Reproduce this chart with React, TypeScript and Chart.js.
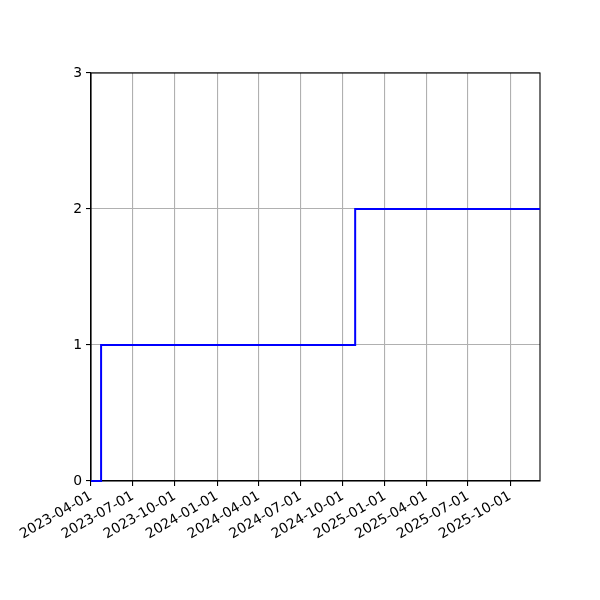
import { useEffect, useRef } from "react";
import { Chart, registerables } from "chart.js";

Chart.register(...registerables);

// step data (where="post"): value holds from each date until the next one
const stepDates = ["2023-04-01", "2023-04-23", "2024-10-28", "2025-12-05"];
const stepValues = [0, 1, 2, 2];

const xTickLabels = [
  "2023-04-01",
  "2023-07-01",
  "2023-10-01",
  "2024-01-01",
  "2024-04-01",
  "2024-07-01",
  "2024-10-01",
  "2025-01-01",
  "2025-04-01",
  "2025-07-01",
  "2025-10-01",
];
const yTickValues = [0, 1, 2, 3];

const toMs = (d: string) => Date.parse(d + "T00:00:00Z");

// matplotlib-like full frame around the axes, under the line
const framePlugin = {
  id: "frame",
  beforeDatasetsDraw(chart: any) {
    const { ctx, chartArea } = chart;
    ctx.save();
    ctx.strokeStyle = "#000";
    ctx.lineWidth = 1.1;
    ctx.strokeRect(
      chartArea.left,
      chartArea.top,
      chartArea.right - chartArea.left,
      chartArea.bottom - chartArea.top
    );
    ctx.restore();
  },
};

export default function App() {
  const canvasRef = useRef<HTMLCanvasElement>(null);

  useEffect(() => {
    document.body.style.margin = "0";
    if (!canvasRef.current) return;

    const points = stepDates.map((d, i) => ({ x: toMs(d), y: stepValues[i] }));
    const font = { family: "DejaVu Sans", size: 13.9 };

    const chart = new Chart(canvasRef.current, {
      type: "line",
      data: {
        datasets: [
          {
            data: points,
            borderColor: "#0000ff",
            borderWidth: 2,
            pointRadius: 0,
            stepped: true,
            fill: false,
            clip: 3,
          },
        ],
      },
      options: {
        animation: false,
        responsive: false,
        maintainAspectRatio: false,
        layout: { padding: { left: 0, top: 73, right: 60, bottom: 0 } },
        plugins: {
          legend: { display: false },
          tooltip: { enabled: false },
        },
        scales: {
          x: {
            type: "linear",
            min: toMs(stepDates[0]),
            max: toMs(stepDates[stepDates.length - 1]),
            afterBuildTicks: (scale: any) => {
              scale.ticks = xTickLabels.map((t) => ({ value: toMs(t) }));
            },
            afterFit: (scale: any) => {
              scale.height = 119;
            },
            grid: {
              color: "#b0b0b0",
              lineWidth: 1.1,
              tickColor: "#000",
              tickLength: 5,
            },
            border: { color: "#000", width: 1.1 },
            ticks: {
              autoSkip: false,
              minRotation: 30,
              maxRotation: 30,
              padding: 2,
              color: "#000",
              font,
              callback: (v: any) => new Date(v).toISOString().slice(0, 10),
            },
          },
          y: {
            min: 0,
            max: 3,
            afterBuildTicks: (scale: any) => {
              scale.ticks = yTickValues.map((v) => ({ value: v }));
            },
            afterFit: (scale: any) => {
              scale.width = 91;
            },
            grid: {
              color: "#b0b0b0",
              lineWidth: 1.1,
              tickColor: "#000",
              tickLength: 5,
            },
            border: { color: "#000", width: 1.1 },
            ticks: {
              padding: 4,
              color: "#000",
              font,
            },
          },
        },
      },
      plugins: [framePlugin],
    });

    return () => {
      chart.destroy();
    };
  }, []);

  return (
    <div style={{ width: 600, height: 600, background: "#fff" }}>
      <canvas ref={canvasRef} width={600} height={600} />
    </div>
  );
}
